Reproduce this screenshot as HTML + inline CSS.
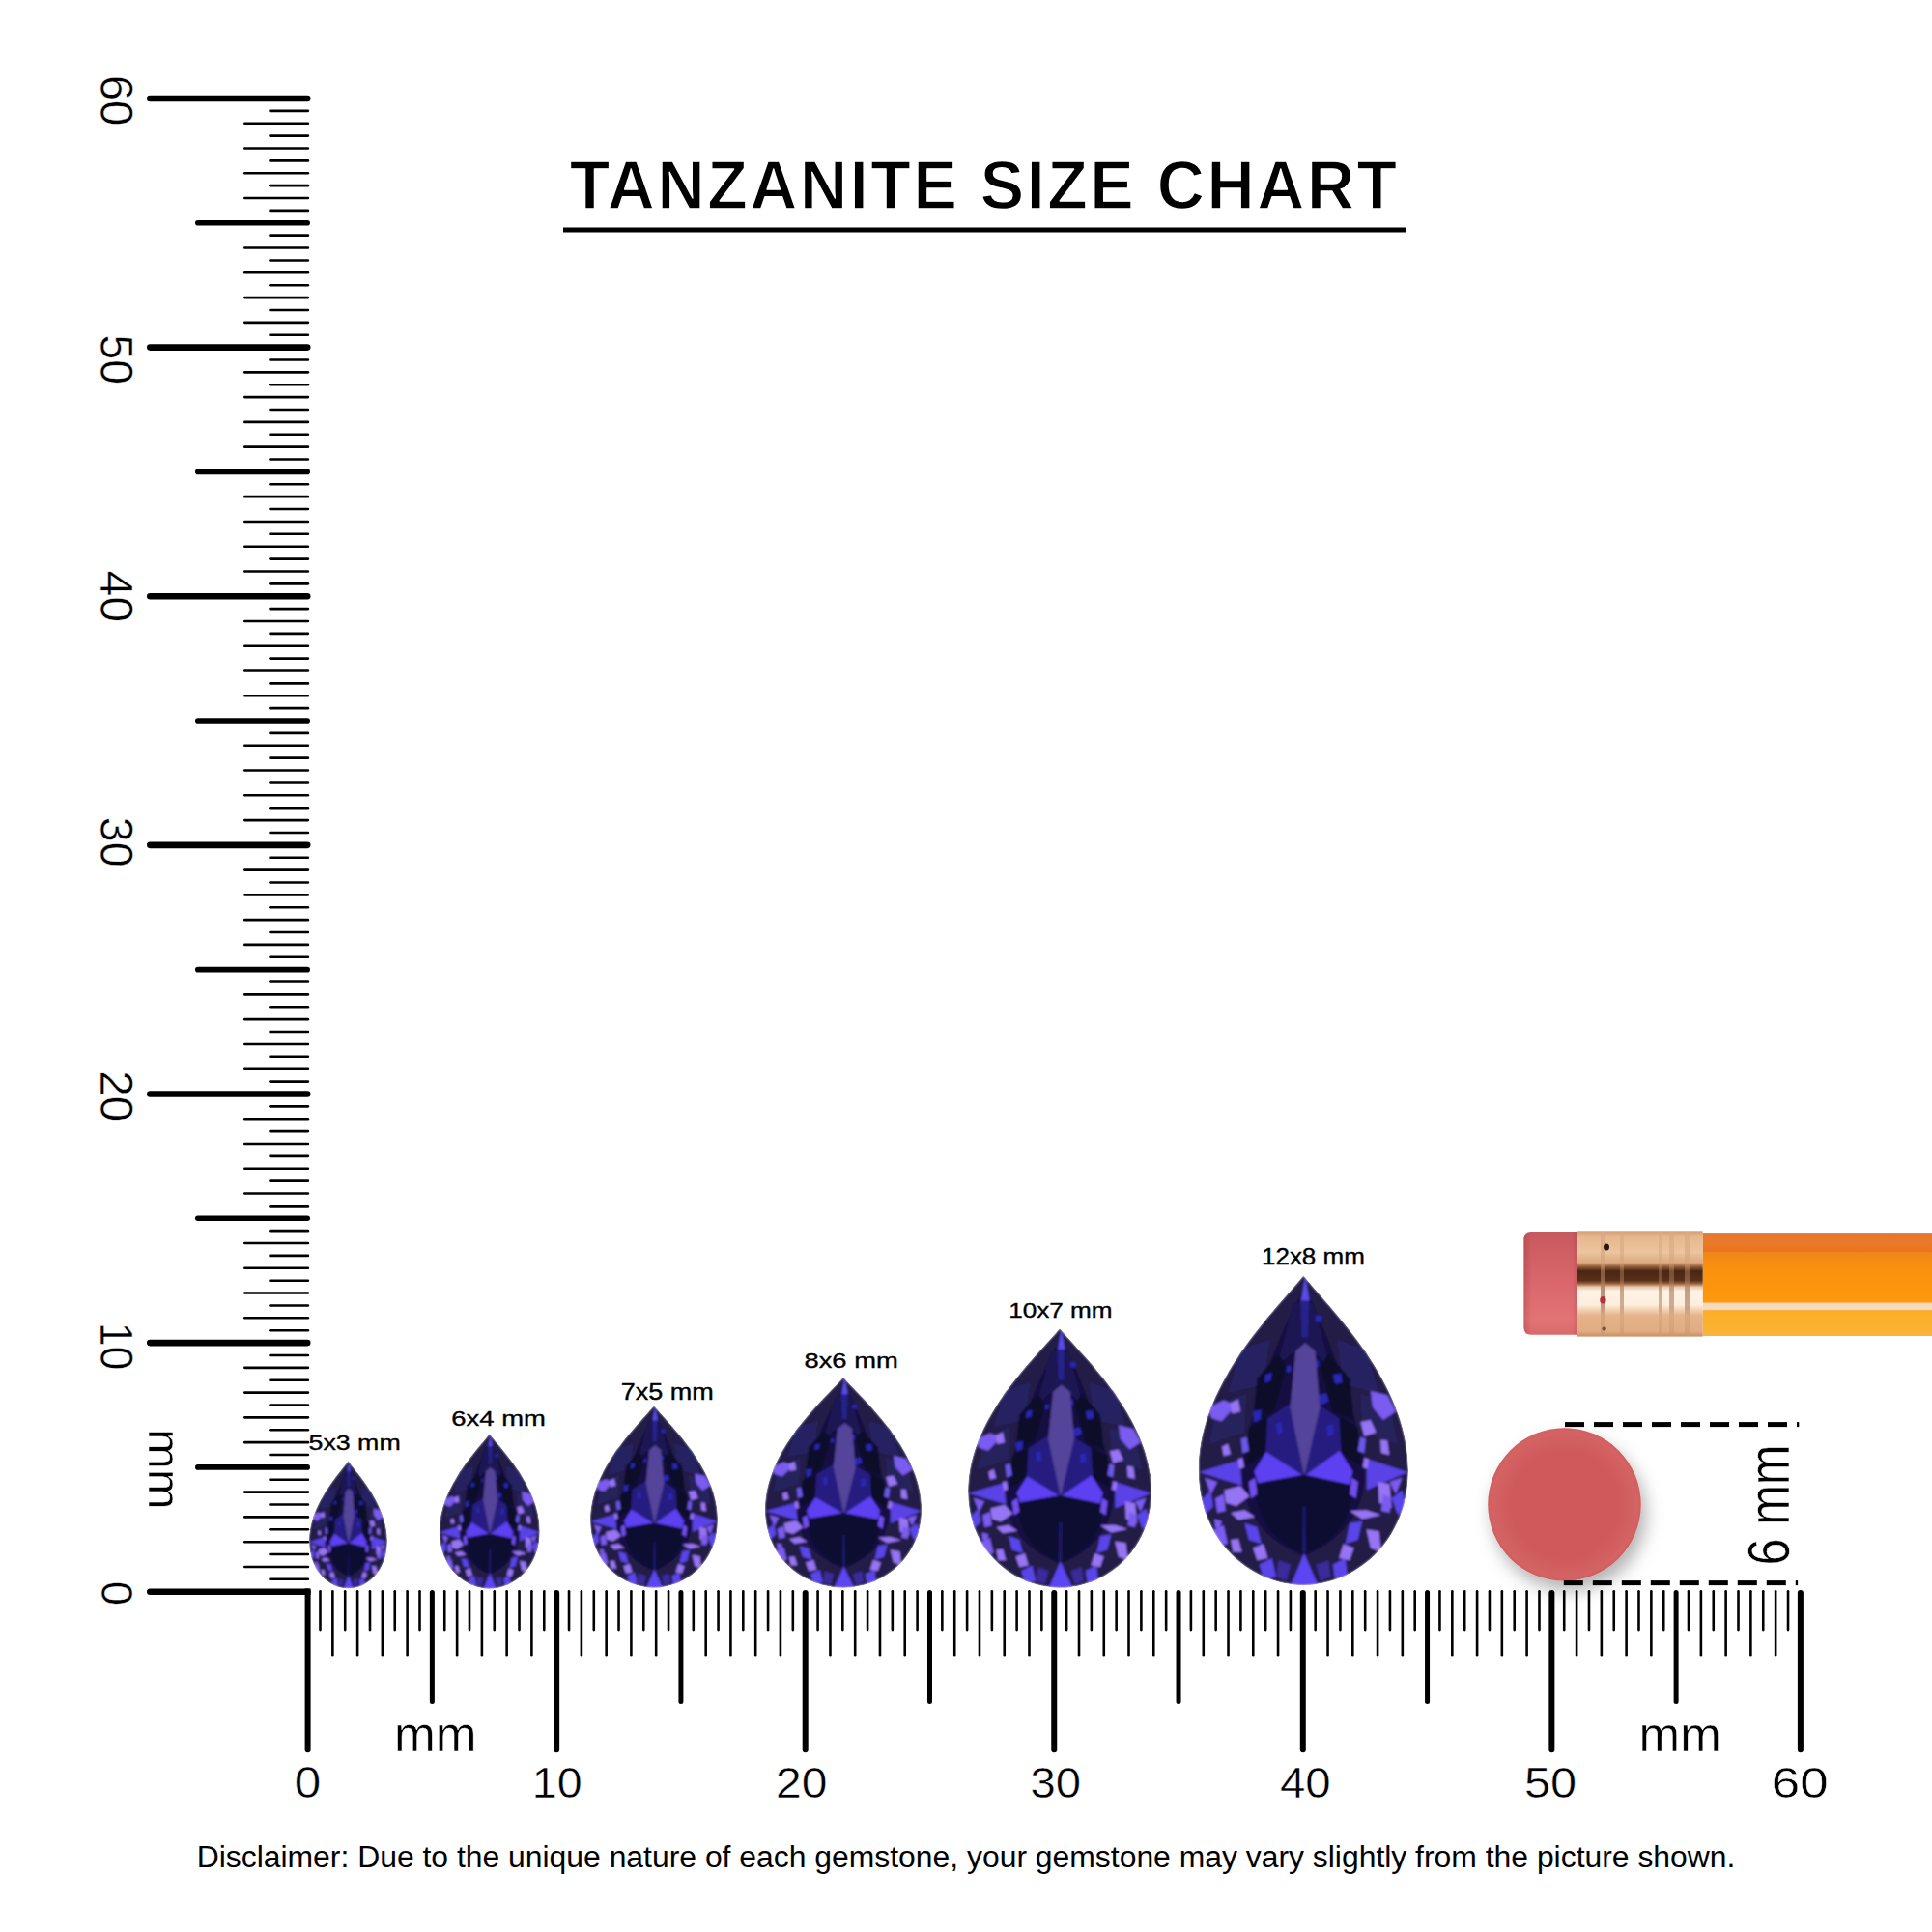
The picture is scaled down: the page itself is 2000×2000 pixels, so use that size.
<!DOCTYPE html>
<html><head><meta charset="utf-8"><title>Tanzanite Size Chart</title>
<style>
html,body{margin:0;padding:0;background:#fff;}
body{width:2000px;height:2000px;overflow:hidden;position:relative;}
svg{position:absolute;left:0;top:0;display:block;}
text{font-family:"Liberation Sans",sans-serif;fill:#000;}
.lab{font-size:23px;}
.num{font-size:45px;}
</style></head><body>
<svg width="2000" height="2000" viewBox="0 0 2000 2000">
<defs>
<symbol id="gem" viewBox="0 0 100 150" preserveAspectRatio="none"><clipPath id="gclip"><path d="M50,0 C37.69,15.76 0,51.5 0,94 C0,130 26,150 50,150 C74,150 100,130 100,94 C100,51.5 62.31,15.76 50,0 Z"/></clipPath><g clip-path="url(#gclip)"><path d="M50,0 C37.69,15.76 0,51.5 0,94 C0,130 26,150 50,150 C74,150 100,130 100,94 C100,51.5 62.31,15.76 50,0 Z" fill="#221a46"/>
<path d="M20.0,36.0 L34.0,31.0 L31.0,53.0 L14.0,57.0 Z" fill="#282062"/><path d="M80.0,36.0 L66.0,31.0 L69.0,53.0 L86.0,57.0 Z" fill="#282062"/>
<path d="M9.0,62.0 L23.0,57.0 L22.0,76.0 L5.0,82.0 Z" fill="#28205c"/><path d="M91.0,62.0 L77.0,57.0 L78.0,76.0 L95.0,82.0 Z" fill="#28205c"/>
<path d="M50.7,6 C47,12 38,30 31,52 C26,68 21,82 20.8,96 C20.6,112 30,128 50.3,136 C70,128 79.4,112 79.2,96 C79,82 74,68 69,52 C62,30 54,12 50.7,6 Z" fill="#130e42"/>
<path d="M45.0,14.0 L50.7,12.0 L50.7,32.0 L42.0,40.0 L37.0,46.0 Z" fill="#1a1552"/><path d="M55.0,14.0 L49.3,12.0 L49.3,32.0 L58.0,40.0 L63.0,46.0 Z" fill="#1a1552"/>
<path d="M28.0,50.0 L38.0,38.0 L42.0,44.0 L36.0,66.0 L26.0,70.0 Z" fill="#0c0a2c"/><path d="M72.0,50.0 L62.0,38.0 L58.0,44.0 L64.0,66.0 L74.0,70.0 Z" fill="#0c0a2c"/>
<path d="M29.0,72.0 L43.7,62.0 L50.4,97.3 L32.2,85.5 L27.0,88.0 Z" fill="#281e80"/><path d="M71.0,72.0 L56.3,62.0 L49.6,97.3 L67.8,85.5 L73.0,88.0 Z" fill="#281e80"/>
<path d="M48.6,11 L52.8,11 L52.2,30 L49.2,30 Z" fill="#26208a"/>
<path d="M56.0,19.0 L59.0,20.0 L58.0,23.0 L55.5,22.0 Z" fill="#2a28b4"/>
<path d="M57.0,58.0 L61.0,57.0 L62.0,61.0 L58.0,63.0 Z" fill="#2a28b4"/>
<path d="M26.0,66.0 L30.0,65.0 L29.5,70.0 L26.5,71.0 Z" fill="#2a28b4"/>
<path d="M32.0,48.0 L35.0,47.0 L34.5,51.0 L31.5,52.0 Z" fill="#2a28b4"/>
<path d="M64.0,48.0 L68.0,47.5 L68.5,52.0 L65.0,52.5 Z" fill="#2a28b4"/>
<path d="M37.0,72.0 L39.5,71.0 L40.0,76.0 L37.5,77.0 Z" fill="#2a28b4"/>
<path d="M61.0,73.0 L64.0,72.0 L64.5,77.0 L61.5,78.0 Z" fill="#2a28b4"/>
<path d="M42.0,44.0 L44.0,43.5 L44.0,46.5 L42.0,47.0 Z" fill="#2a28b4"/>
<path d="M55.0,42.0 L57.0,41.0 L57.5,44.0 L55.5,45.0 Z" fill="#2a28b4"/>
<path d="M24.0,74.0 L33.0,68.0 L32.0,86.0 L23.0,92.0 Z" fill="#0c0a2c"/><path d="M76.0,74.0 L67.0,68.0 L68.0,86.0 L77.0,92.0 Z" fill="#0c0a2c"/>
<path d="M50.8,32.6 L55.6,36.6 L57.8,64.0 L50.4,97.3 L43.7,64.0 L46.3,36.6 Z" fill="#54449a"/>
<path d="M50.3,97.2 L32.2,85.5 L26.5,95.0 L29.6,104.1 Z" fill="#5b3ff2"/>
<path d="M50.3,97.2 L67.3,84.9 L73.5,95.0 L71.5,103.0 Z" fill="#5b3ff2"/>
<path d="M27,100.8 L50.3,96.5 L73,101.5 C74,110 70,122 62.5,127.6 C58,131 53,134 50.3,134 C47,134 41,130 37.4,126.5 C31,121 27,110 27,100.8 Z" fill="#0b0830"/>
<path d="M49.6,112 L51,112 L51.2,134 L49.4,134 Z" fill="#1f1a6a"/>
<path d="M0.3,95.3 L19.6,89.4 L20.7,101.7 Z" fill="#5a42e6"/>
<path d="M99.7,95.3 L80.1,88.8 L80.1,104.0 Z" fill="#5a42e6"/>
<path d="M50.3,134.5 L43.8,150.5 L57.2,150.5 Z" fill="#5c44f2"/>
<path d="M50.8,0.3 L48.9,12.1 L52.9,12.1 Z" fill="#5b4be8"/>
<path d="M11.2,83.0 L14.0,81.5 L15.4,86.5 L12.0,87.5 Z" fill="#9674f4"/>
<path d="M12.3,104.0 L20.0,102.0 L24.3,107.0 L18.0,111.7 L13.0,110.0 Z" fill="#9674f4"/>
<path d="M15.4,115.0 L22.0,113.7 L27.0,117.0 L19.0,118.5 Z" fill="#9674f4"/>
<path d="M15.4,128.0 L19.0,127.6 L20.7,134.0 L16.5,134.0 Z" fill="#9674f4"/>
<path d="M7.6,118.0 L11.2,119.0 L10.0,123.0 L8.0,122.0 Z" fill="#7a5cf0"/>
<path d="M5.0,64.0 L12.0,60.5 L18.0,63.0 L11.0,70.7 L6.0,69.0 Z" fill="#7a5cf0"/>
<path d="M15.0,62.0 L19.0,60.0 L20.0,66.0 L16.0,67.0 Z" fill="#9674f4"/>
<path d="M2.0,108.0 L6.0,104.0 L7.0,112.0 L3.0,116.0 Z" fill="#5a44e8"/>
<path d="M6.0,124.0 L12.0,121.0 L14.0,130.0 L9.0,131.0 Z" fill="#7a5cf0"/>
<path d="M77.2,71.0 L82.0,70.0 L84.6,76.0 L79.0,78.0 Z" fill="#9674f4"/>
<path d="M86.7,79.6 L90.0,80.0 L90.9,87.0 L87.0,86.0 Z" fill="#9674f4"/>
<path d="M85.6,100.0 L91.0,101.0 L92.0,112.7 L86.0,110.0 Z" fill="#9674f4"/>
<path d="M72.0,114.0 L80.0,113.7 L87.0,116.0 L78.0,118.0 Z" fill="#9674f4"/>
<path d="M80.0,123.0 L86.0,124.0 L87.0,134.0 L82.0,132.0 Z" fill="#9674f4"/>
<path d="M82.0,56.0 L90.0,58.0 L94.0,66.0 L88.0,70.0 L83.0,64.0 Z" fill="#7a5cf0"/>
<path d="M92.0,108.0 L97.0,104.0 L99.0,112.0 L95.0,116.0 Z" fill="#5a44e8"/>
<path d="M29.0,140.0 L35.0,137.0 L37.0,146.0 L31.0,147.0 Z" fill="#5a44e8"/>
<path d="M64.0,140.0 L70.0,137.0 L71.0,146.0 L65.0,147.0 Z" fill="#5a44e8"/>
<path d="M22.0,120.0 L28.0,122.0 L30.0,130.0 L24.0,128.0 Z" fill="#5a44e8"/>
<path d="M72.0,120.0 L78.0,119.0 L76.0,128.0 L70.0,130.0 Z" fill="#5a44e8"/>
<path d="M3.0,98.0 L9.0,100.0 L6.0,106.0 Z" fill="#7a5cf0"/>
<path d="M97.0,98.0 L91.0,100.0 L94.0,106.0 Z" fill="#7a5cf0"/>
<path d="M38.0,138.0 L44.0,140.0 L42.0,148.0 L37.0,146.0 Z" fill="#3a2c9a"/>
<path d="M62.0,138.0 L56.0,140.0 L58.0,148.0 L63.0,146.0 Z" fill="#3a2c9a"/>
<path d="M8.0,108.0 L12.0,106.0 L13.0,114.0 L9.0,115.0 Z" fill="#7a5cf0"/>
<path d="M92.0,108.0 L88.0,106.0 L87.0,114.0 L91.0,115.0 Z" fill="#7a5cf0"/>
<path d="M26.0,132.0 L31.0,130.0 L33.0,137.0 L28.0,138.0 Z" fill="#9674f4"/>
<path d="M74.0,132.0 L69.0,130.0 L67.0,137.0 L72.0,138.0 Z" fill="#9674f4"/>
<path d="M24.0,100.0 L27.0,98.0 L28.0,106.0 L25.0,108.0 Z" fill="#7050ee"/>
<path d="M76.0,100.0 L73.0,98.0 L72.0,106.0 L75.0,108.0 Z" fill="#7050ee"/>
<path d="M20.3,79.0 L23.0,78.3 L24.1,85.0 L21.0,86.2 Z" fill="#6a58e8"/>
<path d="M79.7,79.0 L77.0,78.3 L75.9,85.0 L79.0,86.2 Z" fill="#6a58e8"/>
<path d="M18.8,89.0 L21.0,88.3 L21.8,93.0 L19.5,93.7 Z" fill="#9674f4"/>
<path d="M81.2,89.0 L79.0,88.3 L78.2,93.0 L80.5,93.7 Z" fill="#9674f4"/></g></symbol>
<linearGradient id="ferrule" x1="0" y1="1274.3" x2="0" y2="1383.6" gradientUnits="userSpaceOnUse"><stop offset="0" stop-color="#d49e74"/><stop offset="0.05" stop-color="#e6b78e"/><stop offset="0.2" stop-color="#ecc49e"/><stop offset="0.3" stop-color="#dcaa80"/><stop offset="0.34" stop-color="#8e5a36"/><stop offset="0.38" stop-color="#4a2614"/><stop offset="0.47" stop-color="#5a3018"/><stop offset="0.5" stop-color="#9a6440"/><stop offset="0.53" stop-color="#e8c8a8"/><stop offset="0.57" stop-color="#fff3e6"/><stop offset="0.7" stop-color="#fdeedd"/><stop offset="0.75" stop-color="#f2d0ae"/><stop offset="0.8" stop-color="#e6b48a"/><stop offset="0.95" stop-color="#e0ac80"/><stop offset="1" stop-color="#c88e68"/></linearGradient><linearGradient id="body" x1="0" y1="1276.1" x2="0" y2="1383" gradientUnits="userSpaceOnUse"><stop offset="0" stop-color="#e6772c"/><stop offset="0.1" stop-color="#e9792a"/><stop offset="0.18" stop-color="#ea7420"/><stop offset="0.19" stop-color="#f08518"/><stop offset="0.3" stop-color="#f98f10"/><stop offset="0.6" stop-color="#fd970a"/><stop offset="0.67" stop-color="#fb9a12"/><stop offset="0.685" stop-color="#f7d6b8"/><stop offset="0.74" stop-color="#f8dcc2"/><stop offset="0.755" stop-color="#fbad26"/><stop offset="0.9" stop-color="#fbb22e"/><stop offset="1" stop-color="#f9b440"/></linearGradient><linearGradient id="eraser" x1="0" y1="1274.9" x2="0" y2="1381.7" gradientUnits="userSpaceOnUse"><stop offset="0" stop-color="#c65a60"/><stop offset="0.15" stop-color="#cd5d62"/><stop offset="0.5" stop-color="#d9676b"/><stop offset="0.85" stop-color="#e27375"/><stop offset="1" stop-color="#d86a6c"/></linearGradient><linearGradient id="ershade" x1="1577.4" y1="0" x2="1632.7" y2="0" gradientUnits="userSpaceOnUse"><stop offset="0" stop-color="#8a2a30" stop-opacity="0.25"/><stop offset="0.15" stop-color="#8a2a30" stop-opacity="0"/><stop offset="0.9" stop-color="#8a2a30" stop-opacity="0"/><stop offset="1" stop-color="#8a2a30" stop-opacity="0.2"/></linearGradient><linearGradient id="ridge" x1="0" y1="1274.3" x2="0" y2="1383.6" gradientUnits="userSpaceOnUse"><stop offset="0" stop-color="#d8aa84"/><stop offset="0.3" stop-color="#d4a47c"/><stop offset="0.36" stop-color="#b08060"/><stop offset="0.4" stop-color="#9a7050"/><stop offset="0.5" stop-color="#b08060"/><stop offset="0.56" stop-color="#9a6a48"/><stop offset="0.72" stop-color="#a87858"/><stop offset="0.8" stop-color="#d0a27c"/><stop offset="1" stop-color="#c89872"/></linearGradient>
<radialGradient id="rim" cx="0.5" cy="0.5" r="0.5"><stop offset="0.7" stop-color="#d86c6c" stop-opacity="0"/><stop offset="0.95" stop-color="#da6e6e" stop-opacity="0.45"/><stop offset="1" stop-color="#d46868" stop-opacity="0.35"/></radialGradient>
<filter id="gsoft" x="-2%" y="-2%" width="104%" height="104%"><feGaussianBlur in="SourceGraphic" stdDeviation="0.9" result="b"/><feComposite in="b" in2="SourceAlpha" operator="in"/></filter>
<filter id="shadow" x="-30%" y="-30%" width="160%" height="160%">
<feDropShadow dx="5" dy="10" stdDeviation="9" flood-color="#000" flood-opacity="0.3"/>
</filter>
</defs>

<!-- title -->
<rect x="583" y="235.5" width="872" height="5"/>

<!-- vertical ruler -->
<g stroke="#000" stroke-linecap="round">
<line x1="155.3" y1="1647.70" x2="318.1" y2="1647.70" stroke-width="6.6"/>
<line x1="279.5" y1="1634.82" x2="318.9" y2="1634.82" stroke-width="2.6"/>
<line x1="253.3" y1="1621.94" x2="318.9" y2="1621.94" stroke-width="2.6"/>
<line x1="279.5" y1="1609.06" x2="318.9" y2="1609.06" stroke-width="2.6"/>
<line x1="253.3" y1="1596.18" x2="318.9" y2="1596.18" stroke-width="2.6"/>
<line x1="279.5" y1="1583.30" x2="318.9" y2="1583.30" stroke-width="2.6"/>
<line x1="253.3" y1="1570.41" x2="318.9" y2="1570.41" stroke-width="2.6"/>
<line x1="279.5" y1="1557.53" x2="318.9" y2="1557.53" stroke-width="2.6"/>
<line x1="253.3" y1="1544.65" x2="318.9" y2="1544.65" stroke-width="2.6"/>
<line x1="279.5" y1="1531.77" x2="318.9" y2="1531.77" stroke-width="2.6"/>
<line x1="204.8" y1="1518.89" x2="318.2" y2="1518.89" stroke-width="5.6"/>
<line x1="279.5" y1="1506.01" x2="318.9" y2="1506.01" stroke-width="2.6"/>
<line x1="253.3" y1="1493.13" x2="318.9" y2="1493.13" stroke-width="2.6"/>
<line x1="279.5" y1="1480.25" x2="318.9" y2="1480.25" stroke-width="2.6"/>
<line x1="253.3" y1="1467.37" x2="318.9" y2="1467.37" stroke-width="2.6"/>
<line x1="279.5" y1="1454.49" x2="318.9" y2="1454.49" stroke-width="2.6"/>
<line x1="253.3" y1="1441.60" x2="318.9" y2="1441.60" stroke-width="2.6"/>
<line x1="279.5" y1="1428.72" x2="318.9" y2="1428.72" stroke-width="2.6"/>
<line x1="253.3" y1="1415.84" x2="318.9" y2="1415.84" stroke-width="2.6"/>
<line x1="279.5" y1="1402.96" x2="318.9" y2="1402.96" stroke-width="2.6"/>
<line x1="155.3" y1="1390.08" x2="318.2" y2="1390.08" stroke-width="6.6"/>
<line x1="279.5" y1="1377.20" x2="318.9" y2="1377.20" stroke-width="2.6"/>
<line x1="253.3" y1="1364.32" x2="318.9" y2="1364.32" stroke-width="2.6"/>
<line x1="279.5" y1="1351.44" x2="318.9" y2="1351.44" stroke-width="2.6"/>
<line x1="253.3" y1="1338.56" x2="318.9" y2="1338.56" stroke-width="2.6"/>
<line x1="279.5" y1="1325.68" x2="318.9" y2="1325.68" stroke-width="2.6"/>
<line x1="253.3" y1="1312.79" x2="318.9" y2="1312.79" stroke-width="2.6"/>
<line x1="279.5" y1="1299.91" x2="318.9" y2="1299.91" stroke-width="2.6"/>
<line x1="253.3" y1="1287.03" x2="318.9" y2="1287.03" stroke-width="2.6"/>
<line x1="279.5" y1="1274.15" x2="318.9" y2="1274.15" stroke-width="2.6"/>
<line x1="204.8" y1="1261.27" x2="318.2" y2="1261.27" stroke-width="5.6"/>
<line x1="279.5" y1="1248.39" x2="318.9" y2="1248.39" stroke-width="2.6"/>
<line x1="253.3" y1="1235.51" x2="318.9" y2="1235.51" stroke-width="2.6"/>
<line x1="279.5" y1="1222.63" x2="318.9" y2="1222.63" stroke-width="2.6"/>
<line x1="253.3" y1="1209.75" x2="318.9" y2="1209.75" stroke-width="2.6"/>
<line x1="279.5" y1="1196.87" x2="318.9" y2="1196.87" stroke-width="2.6"/>
<line x1="253.3" y1="1183.98" x2="318.9" y2="1183.98" stroke-width="2.6"/>
<line x1="279.5" y1="1171.10" x2="318.9" y2="1171.10" stroke-width="2.6"/>
<line x1="253.3" y1="1158.22" x2="318.9" y2="1158.22" stroke-width="2.6"/>
<line x1="279.5" y1="1145.34" x2="318.9" y2="1145.34" stroke-width="2.6"/>
<line x1="155.3" y1="1132.46" x2="318.2" y2="1132.46" stroke-width="6.6"/>
<line x1="279.5" y1="1119.58" x2="318.9" y2="1119.58" stroke-width="2.6"/>
<line x1="253.3" y1="1106.70" x2="318.9" y2="1106.70" stroke-width="2.6"/>
<line x1="279.5" y1="1093.82" x2="318.9" y2="1093.82" stroke-width="2.6"/>
<line x1="253.3" y1="1080.94" x2="318.9" y2="1080.94" stroke-width="2.6"/>
<line x1="279.5" y1="1068.06" x2="318.9" y2="1068.06" stroke-width="2.6"/>
<line x1="253.3" y1="1055.17" x2="318.9" y2="1055.17" stroke-width="2.6"/>
<line x1="279.5" y1="1042.29" x2="318.9" y2="1042.29" stroke-width="2.6"/>
<line x1="253.3" y1="1029.41" x2="318.9" y2="1029.41" stroke-width="2.6"/>
<line x1="279.5" y1="1016.53" x2="318.9" y2="1016.53" stroke-width="2.6"/>
<line x1="204.8" y1="1003.65" x2="318.2" y2="1003.65" stroke-width="5.6"/>
<line x1="279.5" y1="990.77" x2="318.9" y2="990.77" stroke-width="2.6"/>
<line x1="253.3" y1="977.89" x2="318.9" y2="977.89" stroke-width="2.6"/>
<line x1="279.5" y1="965.01" x2="318.9" y2="965.01" stroke-width="2.6"/>
<line x1="253.3" y1="952.13" x2="318.9" y2="952.13" stroke-width="2.6"/>
<line x1="279.5" y1="939.25" x2="318.9" y2="939.25" stroke-width="2.6"/>
<line x1="253.3" y1="926.36" x2="318.9" y2="926.36" stroke-width="2.6"/>
<line x1="279.5" y1="913.48" x2="318.9" y2="913.48" stroke-width="2.6"/>
<line x1="253.3" y1="900.60" x2="318.9" y2="900.60" stroke-width="2.6"/>
<line x1="279.5" y1="887.72" x2="318.9" y2="887.72" stroke-width="2.6"/>
<line x1="155.3" y1="874.84" x2="318.2" y2="874.84" stroke-width="6.6"/>
<line x1="279.5" y1="861.96" x2="318.9" y2="861.96" stroke-width="2.6"/>
<line x1="253.3" y1="849.08" x2="318.9" y2="849.08" stroke-width="2.6"/>
<line x1="279.5" y1="836.20" x2="318.9" y2="836.20" stroke-width="2.6"/>
<line x1="253.3" y1="823.32" x2="318.9" y2="823.32" stroke-width="2.6"/>
<line x1="279.5" y1="810.44" x2="318.9" y2="810.44" stroke-width="2.6"/>
<line x1="253.3" y1="797.55" x2="318.9" y2="797.55" stroke-width="2.6"/>
<line x1="279.5" y1="784.67" x2="318.9" y2="784.67" stroke-width="2.6"/>
<line x1="253.3" y1="771.79" x2="318.9" y2="771.79" stroke-width="2.6"/>
<line x1="279.5" y1="758.91" x2="318.9" y2="758.91" stroke-width="2.6"/>
<line x1="204.8" y1="746.03" x2="318.2" y2="746.03" stroke-width="5.6"/>
<line x1="279.5" y1="733.15" x2="318.9" y2="733.15" stroke-width="2.6"/>
<line x1="253.3" y1="720.27" x2="318.9" y2="720.27" stroke-width="2.6"/>
<line x1="279.5" y1="707.39" x2="318.9" y2="707.39" stroke-width="2.6"/>
<line x1="253.3" y1="694.51" x2="318.9" y2="694.51" stroke-width="2.6"/>
<line x1="279.5" y1="681.62" x2="318.9" y2="681.62" stroke-width="2.6"/>
<line x1="253.3" y1="668.74" x2="318.9" y2="668.74" stroke-width="2.6"/>
<line x1="279.5" y1="655.86" x2="318.9" y2="655.86" stroke-width="2.6"/>
<line x1="253.3" y1="642.98" x2="318.9" y2="642.98" stroke-width="2.6"/>
<line x1="279.5" y1="630.10" x2="318.9" y2="630.10" stroke-width="2.6"/>
<line x1="155.3" y1="617.22" x2="318.2" y2="617.22" stroke-width="6.6"/>
<line x1="279.5" y1="604.34" x2="318.9" y2="604.34" stroke-width="2.6"/>
<line x1="253.3" y1="591.46" x2="318.9" y2="591.46" stroke-width="2.6"/>
<line x1="279.5" y1="578.58" x2="318.9" y2="578.58" stroke-width="2.6"/>
<line x1="253.3" y1="565.70" x2="318.9" y2="565.70" stroke-width="2.6"/>
<line x1="279.5" y1="552.82" x2="318.9" y2="552.82" stroke-width="2.6"/>
<line x1="253.3" y1="539.93" x2="318.9" y2="539.93" stroke-width="2.6"/>
<line x1="279.5" y1="527.05" x2="318.9" y2="527.05" stroke-width="2.6"/>
<line x1="253.3" y1="514.17" x2="318.9" y2="514.17" stroke-width="2.6"/>
<line x1="279.5" y1="501.29" x2="318.9" y2="501.29" stroke-width="2.6"/>
<line x1="204.8" y1="488.41" x2="318.2" y2="488.41" stroke-width="5.6"/>
<line x1="279.5" y1="475.53" x2="318.9" y2="475.53" stroke-width="2.6"/>
<line x1="253.3" y1="462.65" x2="318.9" y2="462.65" stroke-width="2.6"/>
<line x1="279.5" y1="449.77" x2="318.9" y2="449.77" stroke-width="2.6"/>
<line x1="253.3" y1="436.89" x2="318.9" y2="436.89" stroke-width="2.6"/>
<line x1="279.5" y1="424.01" x2="318.9" y2="424.01" stroke-width="2.6"/>
<line x1="253.3" y1="411.12" x2="318.9" y2="411.12" stroke-width="2.6"/>
<line x1="279.5" y1="398.24" x2="318.9" y2="398.24" stroke-width="2.6"/>
<line x1="253.3" y1="385.36" x2="318.9" y2="385.36" stroke-width="2.6"/>
<line x1="279.5" y1="372.48" x2="318.9" y2="372.48" stroke-width="2.6"/>
<line x1="155.3" y1="359.60" x2="318.2" y2="359.60" stroke-width="6.6"/>
<line x1="279.5" y1="346.72" x2="318.9" y2="346.72" stroke-width="2.6"/>
<line x1="253.3" y1="333.84" x2="318.9" y2="333.84" stroke-width="2.6"/>
<line x1="279.5" y1="320.96" x2="318.9" y2="320.96" stroke-width="2.6"/>
<line x1="253.3" y1="308.08" x2="318.9" y2="308.08" stroke-width="2.6"/>
<line x1="279.5" y1="295.19" x2="318.9" y2="295.19" stroke-width="2.6"/>
<line x1="253.3" y1="282.31" x2="318.9" y2="282.31" stroke-width="2.6"/>
<line x1="279.5" y1="269.43" x2="318.9" y2="269.43" stroke-width="2.6"/>
<line x1="253.3" y1="256.55" x2="318.9" y2="256.55" stroke-width="2.6"/>
<line x1="279.5" y1="243.67" x2="318.9" y2="243.67" stroke-width="2.6"/>
<line x1="204.8" y1="230.79" x2="318.2" y2="230.79" stroke-width="5.6"/>
<line x1="279.5" y1="217.91" x2="318.9" y2="217.91" stroke-width="2.6"/>
<line x1="253.3" y1="205.03" x2="318.9" y2="205.03" stroke-width="2.6"/>
<line x1="279.5" y1="192.15" x2="318.9" y2="192.15" stroke-width="2.6"/>
<line x1="253.3" y1="179.27" x2="318.9" y2="179.27" stroke-width="2.6"/>
<line x1="279.5" y1="166.38" x2="318.9" y2="166.38" stroke-width="2.6"/>
<line x1="253.3" y1="153.50" x2="318.9" y2="153.50" stroke-width="2.6"/>
<line x1="279.5" y1="140.62" x2="318.9" y2="140.62" stroke-width="2.6"/>
<line x1="253.3" y1="127.74" x2="318.9" y2="127.74" stroke-width="2.6"/>
<line x1="279.5" y1="114.86" x2="318.9" y2="114.86" stroke-width="2.6"/>
<line x1="155.3" y1="101.98" x2="318.2" y2="101.98" stroke-width="6.6"/>
</g>
<!-- horizontal ruler -->
<g stroke="#000" stroke-linecap="round">
<line x1="318.60" y1="1648.0" x2="318.60" y2="1811.2" stroke-width="6.0"/>
<line x1="331.48" y1="1647.3" x2="331.48" y2="1687.1" stroke-width="2.6"/>
<line x1="344.36" y1="1647.3" x2="344.36" y2="1713.3" stroke-width="2.6"/>
<line x1="357.23" y1="1647.3" x2="357.23" y2="1687.1" stroke-width="2.6"/>
<line x1="370.11" y1="1647.3" x2="370.11" y2="1713.3" stroke-width="2.6"/>
<line x1="382.99" y1="1647.3" x2="382.99" y2="1687.1" stroke-width="2.6"/>
<line x1="395.87" y1="1647.3" x2="395.87" y2="1713.3" stroke-width="2.6"/>
<line x1="408.74" y1="1647.3" x2="408.74" y2="1687.1" stroke-width="2.6"/>
<line x1="421.62" y1="1647.3" x2="421.62" y2="1713.3" stroke-width="2.6"/>
<line x1="434.50" y1="1647.3" x2="434.50" y2="1687.1" stroke-width="2.6"/>
<line x1="447.38" y1="1648.5" x2="447.38" y2="1761.5" stroke-width="5.0"/>
<line x1="460.25" y1="1647.3" x2="460.25" y2="1687.1" stroke-width="2.6"/>
<line x1="473.13" y1="1647.3" x2="473.13" y2="1713.3" stroke-width="2.6"/>
<line x1="486.01" y1="1647.3" x2="486.01" y2="1687.1" stroke-width="2.6"/>
<line x1="498.88" y1="1647.3" x2="498.88" y2="1713.3" stroke-width="2.6"/>
<line x1="511.76" y1="1647.3" x2="511.76" y2="1687.1" stroke-width="2.6"/>
<line x1="524.64" y1="1647.3" x2="524.64" y2="1713.3" stroke-width="2.6"/>
<line x1="537.52" y1="1647.3" x2="537.52" y2="1687.1" stroke-width="2.6"/>
<line x1="550.39" y1="1647.3" x2="550.39" y2="1713.3" stroke-width="2.6"/>
<line x1="563.27" y1="1647.3" x2="563.27" y2="1687.1" stroke-width="2.6"/>
<line x1="576.15" y1="1649.0" x2="576.15" y2="1811.2" stroke-width="6.0"/>
<line x1="589.03" y1="1647.3" x2="589.03" y2="1687.1" stroke-width="2.6"/>
<line x1="601.90" y1="1647.3" x2="601.90" y2="1713.3" stroke-width="2.6"/>
<line x1="614.78" y1="1647.3" x2="614.78" y2="1687.1" stroke-width="2.6"/>
<line x1="627.66" y1="1647.3" x2="627.66" y2="1713.3" stroke-width="2.6"/>
<line x1="640.54" y1="1647.3" x2="640.54" y2="1687.1" stroke-width="2.6"/>
<line x1="653.41" y1="1647.3" x2="653.41" y2="1713.3" stroke-width="2.6"/>
<line x1="666.29" y1="1647.3" x2="666.29" y2="1687.1" stroke-width="2.6"/>
<line x1="679.17" y1="1647.3" x2="679.17" y2="1713.3" stroke-width="2.6"/>
<line x1="692.05" y1="1647.3" x2="692.05" y2="1687.1" stroke-width="2.6"/>
<line x1="704.92" y1="1648.5" x2="704.92" y2="1761.5" stroke-width="5.0"/>
<line x1="717.80" y1="1647.3" x2="717.80" y2="1687.1" stroke-width="2.6"/>
<line x1="730.68" y1="1647.3" x2="730.68" y2="1713.3" stroke-width="2.6"/>
<line x1="743.56" y1="1647.3" x2="743.56" y2="1687.1" stroke-width="2.6"/>
<line x1="756.43" y1="1647.3" x2="756.43" y2="1713.3" stroke-width="2.6"/>
<line x1="769.31" y1="1647.3" x2="769.31" y2="1687.1" stroke-width="2.6"/>
<line x1="782.19" y1="1647.3" x2="782.19" y2="1713.3" stroke-width="2.6"/>
<line x1="795.07" y1="1647.3" x2="795.07" y2="1687.1" stroke-width="2.6"/>
<line x1="807.94" y1="1647.3" x2="807.94" y2="1713.3" stroke-width="2.6"/>
<line x1="820.82" y1="1647.3" x2="820.82" y2="1687.1" stroke-width="2.6"/>
<line x1="833.70" y1="1649.0" x2="833.70" y2="1811.2" stroke-width="6.0"/>
<line x1="846.58" y1="1647.3" x2="846.58" y2="1687.1" stroke-width="2.6"/>
<line x1="859.46" y1="1647.3" x2="859.46" y2="1713.3" stroke-width="2.6"/>
<line x1="872.33" y1="1647.3" x2="872.33" y2="1687.1" stroke-width="2.6"/>
<line x1="885.21" y1="1647.3" x2="885.21" y2="1713.3" stroke-width="2.6"/>
<line x1="898.09" y1="1647.3" x2="898.09" y2="1687.1" stroke-width="2.6"/>
<line x1="910.97" y1="1647.3" x2="910.97" y2="1713.3" stroke-width="2.6"/>
<line x1="923.84" y1="1647.3" x2="923.84" y2="1687.1" stroke-width="2.6"/>
<line x1="936.72" y1="1647.3" x2="936.72" y2="1713.3" stroke-width="2.6"/>
<line x1="949.60" y1="1647.3" x2="949.60" y2="1687.1" stroke-width="2.6"/>
<line x1="962.48" y1="1648.5" x2="962.48" y2="1761.5" stroke-width="5.0"/>
<line x1="975.35" y1="1647.3" x2="975.35" y2="1687.1" stroke-width="2.6"/>
<line x1="988.23" y1="1647.3" x2="988.23" y2="1713.3" stroke-width="2.6"/>
<line x1="1001.11" y1="1647.3" x2="1001.11" y2="1687.1" stroke-width="2.6"/>
<line x1="1013.99" y1="1647.3" x2="1013.99" y2="1713.3" stroke-width="2.6"/>
<line x1="1026.86" y1="1647.3" x2="1026.86" y2="1687.1" stroke-width="2.6"/>
<line x1="1039.74" y1="1647.3" x2="1039.74" y2="1713.3" stroke-width="2.6"/>
<line x1="1052.62" y1="1647.3" x2="1052.62" y2="1687.1" stroke-width="2.6"/>
<line x1="1065.49" y1="1647.3" x2="1065.49" y2="1713.3" stroke-width="2.6"/>
<line x1="1078.37" y1="1647.3" x2="1078.37" y2="1687.1" stroke-width="2.6"/>
<line x1="1091.25" y1="1649.0" x2="1091.25" y2="1811.2" stroke-width="6.0"/>
<line x1="1104.13" y1="1647.3" x2="1104.13" y2="1687.1" stroke-width="2.6"/>
<line x1="1117.01" y1="1647.3" x2="1117.01" y2="1713.3" stroke-width="2.6"/>
<line x1="1129.88" y1="1647.3" x2="1129.88" y2="1687.1" stroke-width="2.6"/>
<line x1="1142.76" y1="1647.3" x2="1142.76" y2="1713.3" stroke-width="2.6"/>
<line x1="1155.64" y1="1647.3" x2="1155.64" y2="1687.1" stroke-width="2.6"/>
<line x1="1168.51" y1="1647.3" x2="1168.51" y2="1713.3" stroke-width="2.6"/>
<line x1="1181.39" y1="1647.3" x2="1181.39" y2="1687.1" stroke-width="2.6"/>
<line x1="1194.27" y1="1647.3" x2="1194.27" y2="1713.3" stroke-width="2.6"/>
<line x1="1207.15" y1="1647.3" x2="1207.15" y2="1687.1" stroke-width="2.6"/>
<line x1="1220.03" y1="1648.5" x2="1220.03" y2="1761.5" stroke-width="5.0"/>
<line x1="1232.90" y1="1647.3" x2="1232.90" y2="1687.1" stroke-width="2.6"/>
<line x1="1245.78" y1="1647.3" x2="1245.78" y2="1713.3" stroke-width="2.6"/>
<line x1="1258.66" y1="1647.3" x2="1258.66" y2="1687.1" stroke-width="2.6"/>
<line x1="1271.53" y1="1647.3" x2="1271.53" y2="1713.3" stroke-width="2.6"/>
<line x1="1284.41" y1="1647.3" x2="1284.41" y2="1687.1" stroke-width="2.6"/>
<line x1="1297.29" y1="1647.3" x2="1297.29" y2="1713.3" stroke-width="2.6"/>
<line x1="1310.17" y1="1647.3" x2="1310.17" y2="1687.1" stroke-width="2.6"/>
<line x1="1323.05" y1="1647.3" x2="1323.05" y2="1713.3" stroke-width="2.6"/>
<line x1="1335.92" y1="1647.3" x2="1335.92" y2="1687.1" stroke-width="2.6"/>
<line x1="1348.80" y1="1649.0" x2="1348.80" y2="1811.2" stroke-width="6.0"/>
<line x1="1361.68" y1="1647.3" x2="1361.68" y2="1687.1" stroke-width="2.6"/>
<line x1="1374.55" y1="1647.3" x2="1374.55" y2="1713.3" stroke-width="2.6"/>
<line x1="1387.43" y1="1647.3" x2="1387.43" y2="1687.1" stroke-width="2.6"/>
<line x1="1400.31" y1="1647.3" x2="1400.31" y2="1713.3" stroke-width="2.6"/>
<line x1="1413.19" y1="1647.3" x2="1413.19" y2="1687.1" stroke-width="2.6"/>
<line x1="1426.07" y1="1647.3" x2="1426.07" y2="1713.3" stroke-width="2.6"/>
<line x1="1438.94" y1="1647.3" x2="1438.94" y2="1687.1" stroke-width="2.6"/>
<line x1="1451.82" y1="1647.3" x2="1451.82" y2="1713.3" stroke-width="2.6"/>
<line x1="1464.70" y1="1647.3" x2="1464.70" y2="1687.1" stroke-width="2.6"/>
<line x1="1477.57" y1="1648.5" x2="1477.57" y2="1761.5" stroke-width="5.0"/>
<line x1="1490.45" y1="1647.3" x2="1490.45" y2="1687.1" stroke-width="2.6"/>
<line x1="1503.33" y1="1647.3" x2="1503.33" y2="1713.3" stroke-width="2.6"/>
<line x1="1516.21" y1="1647.3" x2="1516.21" y2="1687.1" stroke-width="2.6"/>
<line x1="1529.09" y1="1647.3" x2="1529.09" y2="1713.3" stroke-width="2.6"/>
<line x1="1541.96" y1="1647.3" x2="1541.96" y2="1687.1" stroke-width="2.6"/>
<line x1="1554.84" y1="1647.3" x2="1554.84" y2="1713.3" stroke-width="2.6"/>
<line x1="1567.72" y1="1647.3" x2="1567.72" y2="1687.1" stroke-width="2.6"/>
<line x1="1580.59" y1="1647.3" x2="1580.59" y2="1713.3" stroke-width="2.6"/>
<line x1="1593.47" y1="1647.3" x2="1593.47" y2="1687.1" stroke-width="2.6"/>
<line x1="1606.35" y1="1649.0" x2="1606.35" y2="1811.2" stroke-width="6.0"/>
<line x1="1619.23" y1="1647.3" x2="1619.23" y2="1687.1" stroke-width="2.6"/>
<line x1="1632.11" y1="1647.3" x2="1632.11" y2="1713.3" stroke-width="2.6"/>
<line x1="1644.98" y1="1647.3" x2="1644.98" y2="1687.1" stroke-width="2.6"/>
<line x1="1657.86" y1="1647.3" x2="1657.86" y2="1713.3" stroke-width="2.6"/>
<line x1="1670.74" y1="1647.3" x2="1670.74" y2="1687.1" stroke-width="2.6"/>
<line x1="1683.61" y1="1647.3" x2="1683.61" y2="1713.3" stroke-width="2.6"/>
<line x1="1696.49" y1="1647.3" x2="1696.49" y2="1687.1" stroke-width="2.6"/>
<line x1="1709.37" y1="1647.3" x2="1709.37" y2="1713.3" stroke-width="2.6"/>
<line x1="1722.25" y1="1647.3" x2="1722.25" y2="1687.1" stroke-width="2.6"/>
<line x1="1735.12" y1="1648.5" x2="1735.12" y2="1761.5" stroke-width="5.0"/>
<line x1="1748.00" y1="1647.3" x2="1748.00" y2="1687.1" stroke-width="2.6"/>
<line x1="1760.88" y1="1647.3" x2="1760.88" y2="1713.3" stroke-width="2.6"/>
<line x1="1773.76" y1="1647.3" x2="1773.76" y2="1687.1" stroke-width="2.6"/>
<line x1="1786.63" y1="1647.3" x2="1786.63" y2="1713.3" stroke-width="2.6"/>
<line x1="1799.51" y1="1647.3" x2="1799.51" y2="1687.1" stroke-width="2.6"/>
<line x1="1812.39" y1="1647.3" x2="1812.39" y2="1713.3" stroke-width="2.6"/>
<line x1="1825.27" y1="1647.3" x2="1825.27" y2="1687.1" stroke-width="2.6"/>
<line x1="1838.14" y1="1647.3" x2="1838.14" y2="1713.3" stroke-width="2.6"/>
<line x1="1851.02" y1="1647.3" x2="1851.02" y2="1687.1" stroke-width="2.6"/>
<line x1="1863.90" y1="1649.0" x2="1863.90" y2="1811.2" stroke-width="6.0"/>
</g>
<!-- corner square join -->
<rect x="315.6" y="1644.4" width="6" height="6.6"/>

<!-- vertical numbers (rotated 90deg) -->
<use href="#gem" x="320.0" y="1512.0" width="81.0" height="132.6" filter="url(#gsoft)"/>
<use href="#gem" x="454.6" y="1484.1" width="104.3" height="160.7" filter="url(#gsoft)"/>
<use href="#gem" x="610.9" y="1455.0" width="132.2" height="188.8" filter="url(#gsoft)"/>
<use href="#gem" x="791.8" y="1425.6" width="162.4" height="218.2" filter="url(#gsoft)"/>
<use href="#gem" x="1002.0" y="1375.1" width="190.2" height="268.7" filter="url(#gsoft)"/>
<use href="#gem" x="1240.6" y="1320.3" width="217.4" height="320.6" filter="url(#gsoft)"/>
<rect x="1762.5" y="1276.1" width="240" height="106.9" fill="url(#body)"/>
<rect x="1632.5" y="1274.3" width="130.2" height="109.3" fill="url(#ferrule)"/>
<rect x="1657" y="1275" width="5" height="108" fill="url(#ridge)" opacity="0.7"/>
<rect x="1677" y="1275" width="4" height="108" fill="url(#ridge)" opacity="0.55"/>
<rect x="1717" y="1275" width="4" height="108" fill="url(#ridge)" opacity="0.5"/>
<rect x="1728" y="1275" width="5" height="108" fill="url(#ridge)" opacity="0.55"/>
<rect x="1744" y="1275" width="5" height="108" fill="url(#ridge)" opacity="0.6"/>
<ellipse cx="1663" cy="1291" rx="3" ry="3.5" fill="#2a1810"/>
<ellipse cx="1659.4" cy="1345.7" rx="3.2" ry="3.8" fill="#b8303a"/>
<ellipse cx="1660.6" cy="1375.5" rx="2.2" ry="2" fill="#7a5030"/>
<path d="M1585,1274.9 L1632.7,1274.9 L1632.7,1381.7 L1585,1381.7 Q1577.4,1381.7 1577.4,1374 L1577.4,1282.5 Q1577.4,1274.9 1585,1274.9 Z" fill="url(#eraser)"/>
<path d="M1585,1274.9 L1632.7,1274.9 L1632.7,1381.7 L1585,1381.7 Q1577.4,1381.7 1577.4,1374 L1577.4,1282.5 Q1577.4,1274.9 1585,1274.9 Z" fill="url(#ershade)"/>

<circle cx="1619.5" cy="1557.4" r="79.2" fill="#cf5a5b" filter="url(#shadow)"/>
<circle cx="1619.5" cy="1557.4" r="79.2" fill="url(#rim)"/>
<g fill="#000">
<rect x="1620.0" y="1472.1" width="20" height="5"/>
<rect x="1650.0" y="1472.1" width="20" height="5"/>
<rect x="1680.0" y="1472.1" width="20" height="5"/>
<rect x="1710.0" y="1472.1" width="20" height="5"/>
<rect x="1740.0" y="1472.1" width="20" height="5"/>
<rect x="1770.0" y="1472.1" width="20" height="5"/>
<rect x="1800.0" y="1472.1" width="20" height="5"/>
<rect x="1830.0" y="1472.1" width="20" height="5"/>
<rect x="1860.0" y="1472.1" width="2.3" height="5"/>
<rect x="1618.8" y="1636.1" width="20" height="5"/>
<rect x="1648.8" y="1636.1" width="20" height="5"/>
<rect x="1678.8" y="1636.1" width="20" height="5"/>
<rect x="1708.8" y="1636.1" width="20" height="5"/>
<rect x="1738.8" y="1636.1" width="20" height="5"/>
<rect x="1768.8" y="1636.1" width="20" height="5"/>
<rect x="1798.8" y="1636.1" width="20" height="5"/>
<rect x="1828.8" y="1636.1" width="20" height="5"/>
<rect x="1858.8" y="1636.1" width="2.3" height="5"/>
</g>

<!-- disclaimer -->
<text transform="matrix(1.03083,0,0,1.07316,589.742,215.980)" font-size="66" font-weight="bold" stroke="#fff" stroke-width="1.236" stroke-linejoin="round" letter-spacing="2.5">TANZANITE SIZE CHART</text>
<text transform="matrix(0,1.02872,-1.02923,0,104.290,77.660)" font-size="46" font-weight="normal" stroke="#fff" stroke-width="0.486" stroke-linejoin="round">60</text>
<text transform="matrix(0,1.00423,-1.03231,0,104.191,346.567)" font-size="46" font-weight="normal" stroke="#fff" stroke-width="0.491" stroke-linejoin="round">50</text>
<text transform="matrix(0,1.03938,-1.03231,0,104.291,590.836)" font-size="46" font-weight="normal" stroke="#fff" stroke-width="0.483" stroke-linejoin="round">40</text>
<text transform="matrix(0,1.01158,-1.03231,0,104.191,845.805)" font-size="46" font-weight="normal" stroke="#fff" stroke-width="0.489" stroke-linejoin="round">30</text>
<text transform="matrix(0,1.03298,-1.03231,0,104.191,1108.251)" font-size="46" font-weight="normal" stroke="#fff" stroke-width="0.484" stroke-linejoin="round">20</text>
<text transform="matrix(0,0.97377,-1.03231,0,104.191,1368.667)" font-size="46" font-weight="normal" stroke="#fff" stroke-width="0.498" stroke-linejoin="round">10</text>
<text transform="matrix(0,0.98409,-0.99538,0,104.673,1636.853)" font-size="46" font-weight="normal" stroke="#fff" stroke-width="0.505" stroke-linejoin="round">0</text>
<text transform="matrix(0,1.09291,-1.02020,0,153.775,1478.896)" font-size="46" font-weight="normal" stroke="#fff" stroke-width="0.473" stroke-linejoin="round">mm</text>
<text transform="matrix(1.10000,0,0,1.03281,304.650,1861.109)" font-size="45" font-weight="normal" stroke="#fff" stroke-width="0.469" stroke-linejoin="round">0</text>
<text transform="matrix(1.03575,0,0,1.00469,550.850,1860.923)" font-size="45" font-weight="normal" stroke="#fff" stroke-width="0.490" stroke-linejoin="round">10</text>
<text transform="matrix(1.06848,0,0,1.00469,802.971,1860.923)" font-size="45" font-weight="normal" stroke="#fff" stroke-width="0.482" stroke-linejoin="round">20</text>
<text transform="matrix(1.05054,0,0,1.00469,1066.437,1860.923)" font-size="45" font-weight="normal" stroke="#fff" stroke-width="0.487" stroke-linejoin="round">30</text>
<text transform="matrix(1.05291,0,0,1.00469,1325.022,1860.923)" font-size="45" font-weight="normal" stroke="#fff" stroke-width="0.486" stroke-linejoin="round">40</text>
<text transform="matrix(1.08280,0,0,1.00469,1577.880,1860.923)" font-size="45" font-weight="normal" stroke="#fff" stroke-width="0.479" stroke-linejoin="round">50</text>
<text transform="matrix(1.17717,0,0,1.00469,1833.726,1860.923)" font-size="45" font-weight="normal" stroke="#fff" stroke-width="0.458" stroke-linejoin="round">60</text>
<text transform="matrix(1.07007,0,0,1.07767,408.097,1812.825)" font-size="48" font-weight="normal" stroke="#fff" stroke-width="0.466" stroke-linejoin="round">mm</text>
<text transform="matrix(1.06599,0,0,1.04272,1696.511,1812.825)" font-size="48" font-weight="normal" stroke="#fff" stroke-width="0.474" stroke-linejoin="round">mm</text>
<text transform="matrix(0,-0.86329,1.06220,0,1851.694,1620.615)" font-size="58" font-weight="normal" stroke="#fff" stroke-width="0.519" stroke-linejoin="round">6 mm</text>
<text transform="matrix(1.16391,0,0,0.99323,319.516,1501.272)" font-size="23" font-weight="normal" stroke="#000" stroke-width="0.371" stroke-linejoin="round">5x3 mm</text>
<text transform="matrix(1.19291,0,0,0.98092,467.289,1476.375)" font-size="23" font-weight="normal" stroke="#000" stroke-width="0.368" stroke-linejoin="round">6x4 mm</text>
<text transform="matrix(1.17392,0,0,1.04000,642.813,1448.560)" font-size="23" font-weight="normal" stroke="#000" stroke-width="0.361" stroke-linejoin="round">7x5 mm</text>
<text transform="matrix(1.18915,0,0,0.98708,832.491,1415.573)" font-size="23" font-weight="normal" stroke="#000" stroke-width="0.368" stroke-linejoin="round">8x6 mm</text>
<text transform="matrix(1.13578,0,0,0.96246,1044.192,1363.779)" font-size="23" font-weight="normal" stroke="#000" stroke-width="0.381" stroke-linejoin="round">10x7 mm</text>
<text transform="matrix(1.12921,0,0,1.01785,1306.004,1309.466)" font-size="23" font-weight="normal" stroke="#000" stroke-width="0.373" stroke-linejoin="round">12x8 mm</text>
<text transform="matrix(0.99683,0,0,0.99683,203.659,1932.800)" font-size="32" font-weight="normal">Disclaimer: Due to the unique nature of each gemstone, your gemstone may vary slightly from the picture shown.</text>
</svg>
</body></html>
